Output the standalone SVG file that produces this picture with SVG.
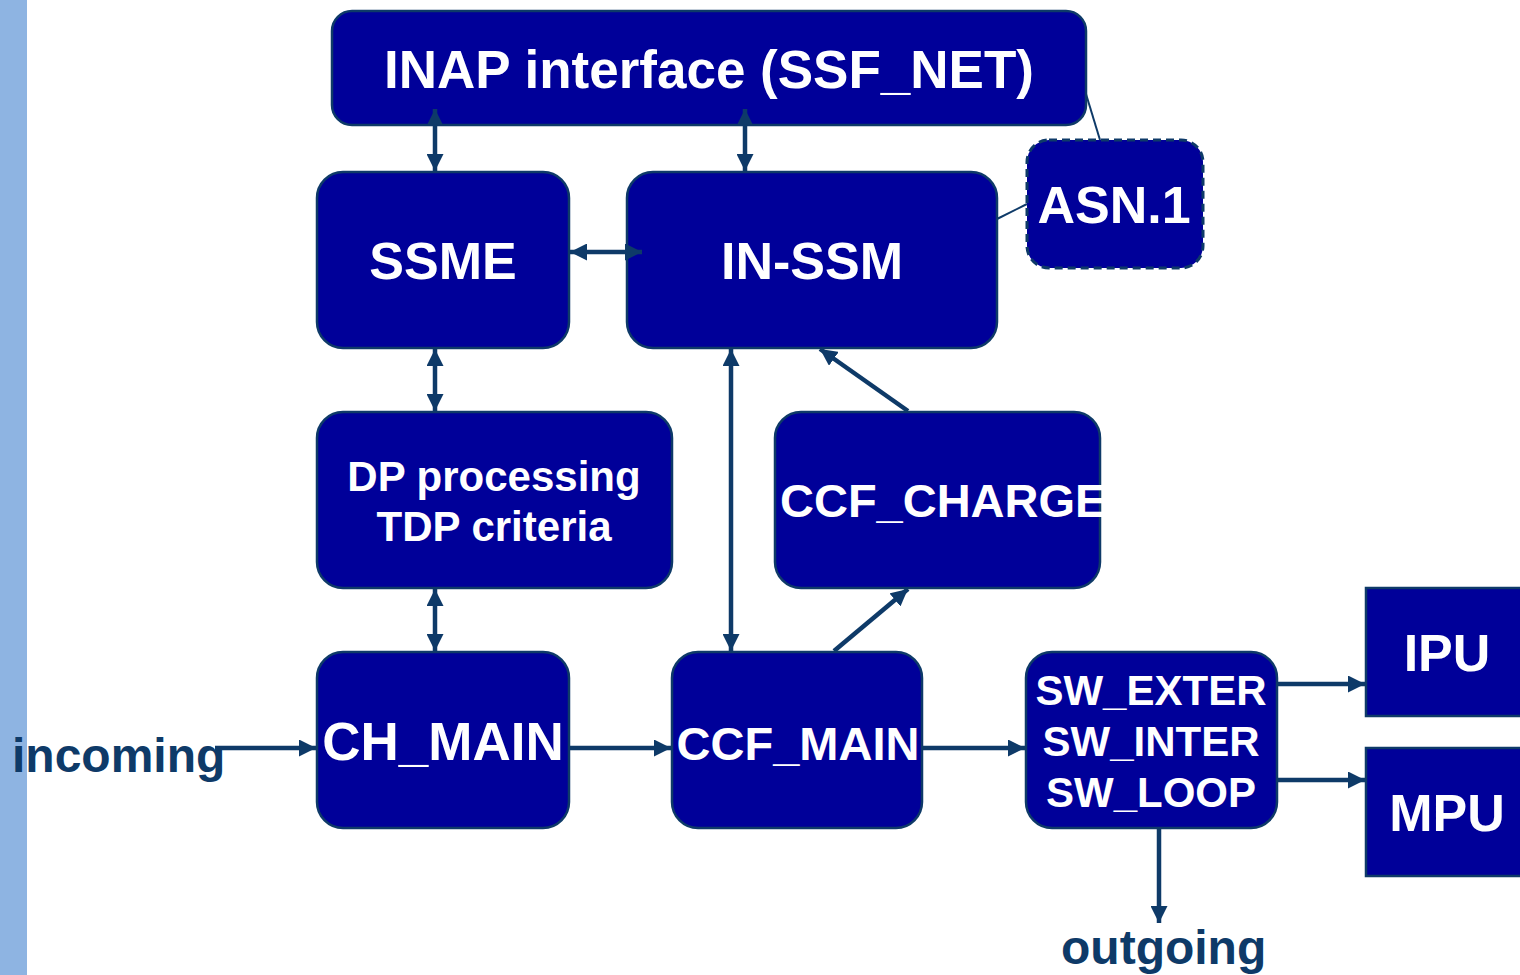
<svg xmlns="http://www.w3.org/2000/svg" width="1520" height="975" viewBox="0 0 1520 975">
  <style>
    .box { fill: #000099; stroke: #0E3A68; stroke-width: 2.5; }
    .dash { stroke-dasharray: 8 5; stroke-width: 3; }
    .lbl { fill: #FFFFFF; font-family: "Liberation Sans", Arial, sans-serif; font-weight: bold; text-anchor: middle; }
    .ext { fill: #0E3A68; font-family: "Liberation Sans", Arial, sans-serif; font-weight: bold; font-size: 48px; }
    .conn { stroke: #0E3A68; stroke-width: 4.5; fill: none; }
    .thin { stroke: #0E3A68; stroke-width: 2; fill: none; }
  </style>
  <defs>
    <marker id="head" viewBox="0 0 10 10" refX="10" refY="5" markerUnits="userSpaceOnUse" markerWidth="17" markerHeight="17" orient="auto-start-reverse">
      <path d="M0,0 L10,5 L0,10 Z" fill="#0E3A68"/>
    </marker>
  </defs>

  <!-- side band -->
  <rect x="0" y="0" width="27" height="975" fill="#8EB4E2"/>

  <g id="inap">
    <rect class="box" x="332" y="11" width="754" height="114" rx="20"/>
    <text class="lbl" x="709" y="88" font-size="53">INAP interface (SSF_NET)</text>
  </g>

  <g id="ssme">
    <rect class="box" x="317" y="172" width="252" height="176" rx="26"/>
    <text class="lbl" x="443" y="279" font-size="52">SSME</text>
  </g>

  <g id="in-ssm">
    <rect class="box" x="627" y="172" width="370" height="176" rx="26"/>
    <text class="lbl" x="812" y="279" font-size="52">IN-SSM</text>
  </g>

  <g id="asn1">
    <rect class="box dash" x="1027" y="140" width="176" height="128" rx="22"/>
    <text class="lbl" x="1114" y="223" font-size="52">ASN.1</text>
  </g>

  <g id="dp-processing">
    <rect class="box" x="317" y="412" width="355" height="176" rx="26"/>
    <text class="lbl" x="494" y="491" font-size="42">DP processing</text>
    <text class="lbl" x="494" y="541" font-size="42">TDP criteria</text>
  </g>

  <g id="ccf-charge">
    <rect class="box" x="775" y="412" width="325" height="176" rx="26"/>
    <text class="lbl" x="780" y="517" font-size="47" style="text-anchor:start">CCF_CHARGE</text>
  </g>

  <g id="ch-main">
    <rect class="box" x="317" y="652" width="252" height="176" rx="26"/>
    <text class="lbl" x="443" y="760" font-size="53">CH_MAIN</text>
  </g>

  <g id="ccf-main">
    <rect class="box" x="672" y="652" width="250" height="176" rx="26"/>
    <text class="lbl" x="798" y="760" font-size="47">CCF_MAIN</text>
  </g>

  <g id="sw">
    <rect class="box" x="1026" y="652" width="251" height="176" rx="26"/>
    <text class="lbl" x="1151" y="705" font-size="42">SW_EXTER</text>
    <text class="lbl" x="1151" y="756" font-size="42">SW_INTER</text>
    <text class="lbl" x="1151" y="807" font-size="42">SW_LOOP</text>
  </g>

  <g id="ipu">
    <rect class="box" x="1366" y="588" width="170" height="128"/>
    <text class="lbl" x="1447" y="671" font-size="52">IPU</text>
  </g>

  <g id="mpu">
    <rect class="box" x="1366" y="748" width="170" height="128"/>
    <text class="lbl" x="1447" y="831" font-size="52">MPU</text>
  </g>

  <g id="incoming">
    <text class="ext" x="12" y="772">incoming</text>
  </g>
  <g id="outgoing">
    <text class="ext" x="1061" y="964">outgoing</text>
  </g>

  <!-- connectors, drawn over the boxes -->
  <g id="connectors">
    <line class="conn" x1="435" y1="109" x2="435" y2="171" marker-start="url(#head)" marker-end="url(#head)"/>
    <line class="conn" x1="745" y1="109" x2="745" y2="171" marker-start="url(#head)" marker-end="url(#head)"/>
    <line class="conn" x1="570" y1="252" x2="642" y2="252" marker-start="url(#head)" marker-end="url(#head)"/>
    <line class="conn" x1="435" y1="349" x2="435" y2="411" marker-start="url(#head)" marker-end="url(#head)"/>
    <line class="conn" x1="435" y1="589" x2="435" y2="651" marker-start="url(#head)" marker-end="url(#head)"/>
    <line class="conn" x1="731" y1="349" x2="731" y2="651" marker-start="url(#head)" marker-end="url(#head)"/>
    <line class="conn" x1="908" y1="411" x2="820" y2="349" marker-end="url(#head)"/>
    <line class="conn" x1="834" y1="651" x2="908" y2="589" marker-end="url(#head)"/>
    <line class="conn" x1="215" y1="748" x2="316" y2="748" marker-end="url(#head)"/>
    <line class="conn" x1="570" y1="748" x2="671" y2="748" marker-end="url(#head)"/>
    <line class="conn" x1="923" y1="748" x2="1025" y2="748" marker-end="url(#head)"/>
    <line class="conn" x1="1278" y1="684" x2="1365" y2="684" marker-end="url(#head)"/>
    <line class="conn" x1="1278" y1="780" x2="1365" y2="780" marker-end="url(#head)"/>
    <line class="conn" x1="1159" y1="829" x2="1159" y2="923" marker-end="url(#head)"/>
    <line class="thin" x1="1086" y1="94" x2="1100" y2="140"/>
    <line class="thin" x1="997" y1="219" x2="1027" y2="204"/>
  </g>
</svg>
